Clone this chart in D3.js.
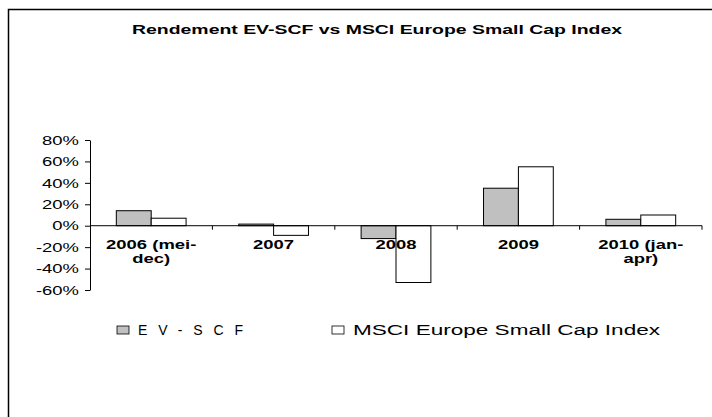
<!DOCTYPE html>
<html>
<head>
<meta charset="utf-8">
<script src="https://cdn.jsdelivr.net/npm/d3@7"></script>
<style>
  body { margin: 0; background: #fff; }
  text { font-family: Arial, "Liberation Sans", sans-serif; fill: #000; }
</style>
</head>
<body>
<div id="chart"></div>
<script>
// data (percent)
const categories = [["2006 (mei-", "dec)"], ["2007"], ["2008"], ["2009"], ["2010 (jan-", "apr)"]];
const seriesNames = ["EV-SCF", "MSCI Europe Small Cap Index"];
const evscf = [14, 1.5, -12, 35, 6];
const msci = [7, -9, -53, 55, 10];
const yTicks = [-60, -40, -20, 0, 20, 40, 60, 80];
const colors = ["#c0c0c0", "#ffffff"];

const width = 712, height = 417;
const stretch = 1.42; // the original text is drawn wide

const svg = d3.select("#chart").append("svg")
    .attr("width", width)
    .attr("height", height);

// outer frame, runs off the right and bottom edges
svg.append("rect")
    .attr("x", 8.5).attr("y", 9.5)
    .attr("width", width).attr("height", height)
    .attr("fill", "none")
    .attr("stroke", "#000")
    .attr("stroke-width", 1.5);

svg.append("text")
    .attr("x", 132).attr("y", 34)
    .attr("font-size", "13px")
    .attr("font-weight", "bold")
    .attr("textLength", 490)
    .attr("lengthAdjust", "spacingAndGlyphs")
    .text("Rendement EV-SCF vs MSCI Europe Small Cap Index");

const keys = categories.map(function(c) { return c.join(" "); });
const rows = keys.map(function(k, i) { return { key: k, values: [evscf[i], msci[i]] }; });

const x = d3.scaleBand()
    .domain(keys)
    .range([90, 702])
    .paddingInner(0.43)
    .paddingOuter(0.215);

const xs = d3.scaleBand()
    .domain([0, 1])
    .range([0, x.bandwidth()]);

const y = d3.scaleLinear()
    .domain([-60, 80])
    .range([290, 140]);

// y axis
const yAxis = svg.append("g")
    .attr("transform", "translate(90,0)")
    .call(d3.axisLeft(y).tickValues(yTicks).tickSize(5).tickSizeOuter(0)
        .tickFormat(function(d) { return d + "%"; }));
yAxis.select(".domain").attr("stroke", "#000");
yAxis.selectAll("line").attr("stroke", "#000");
yAxis.selectAll("text")
    .attr("font-size", "13px")
    .attr("font-family", null)
    .attr("x", -11 / stretch)
    .attr("transform", "scale(" + stretch + ",1)");

// bars
const groups = svg.append("g").selectAll("g")
    .data(rows)
    .join("g")
    .attr("transform", function(d) { return "translate(" + x(d.key) + ",0)"; });

groups.selectAll("rect")
    .data(function(d) { return d.values; })
    .join("rect")
    .attr("x", function(d, i) { return xs(i); })
    .attr("y", function(d) { return y(Math.max(0, d)); })
    .attr("width", xs.bandwidth())
    .attr("height", function(d) { return Math.abs(y(d) - y(0)); })
    .attr("fill", function(d, i) { return colors[i]; })
    .attr("stroke", "#000")
    .attr("stroke-width", 1);

// x axis on the zero line, ticks between categories
const step = x.step();
const xAxis = svg.append("g").attr("transform", "translate(0," + y(0) + ")");
xAxis.append("line")
    .attr("x1", 90).attr("x2", 702)
    .attr("stroke", "#000");
xAxis.selectAll("line.tick")
    .data(d3.range(1, keys.length + 1))
    .join("line")
    .attr("class", "tick")
    .attr("x1", function(d) { return 90 + d * step; })
    .attr("x2", function(d) { return 90 + d * step; })
    .attr("y1", 0).attr("y2", 4)
    .attr("stroke", "#000");

// category labels, fixed below the axis
svg.append("g").selectAll("text")
    .data(categories)
    .join("text")
    .attr("transform", function(d, i) {
        return "translate(" + (x(keys[i]) + x.bandwidth() / 2) + ",249) scale(" + stretch + ",1)";
    })
    .attr("text-anchor", "middle")
    .attr("font-size", "13px")
    .attr("font-weight", "bold")
    .selectAll("tspan")
    .data(function(d) { return d; })
    .join("tspan")
    .attr("x", 0)
    .attr("dy", function(d, i) { return i ? 14.5 : 0; })
    .text(function(d) { return d; });

// legend
const legend = [
    { name: seriesNames[0], bx: 117, tx: 138, len: 105, adjust: "spacing" },
    { name: seriesNames[1], bx: 332, tx: 353, len: 307, adjust: "spacingAndGlyphs" }
];
const lg = svg.append("g").selectAll("g")
    .data(legend)
    .join("g");
lg.append("rect")
    .attr("x", function(d) { return d.bx; })
    .attr("y", 326)
    .attr("width", 12).attr("height", 8)
    .attr("fill", function(d, i) { return colors[i]; })
    .attr("stroke", "#000")
    .attr("stroke-width", 0.8);
lg.append("text")
    .attr("x", function(d) { return d.tx; })
    .attr("y", 335)
    .attr("font-size", "14px")
    .attr("textLength", function(d) { return d.len; })
    .attr("lengthAdjust", function(d) { return d.adjust; })
    .text(function(d) { return d.name; });
</script>
</body>
</html>
